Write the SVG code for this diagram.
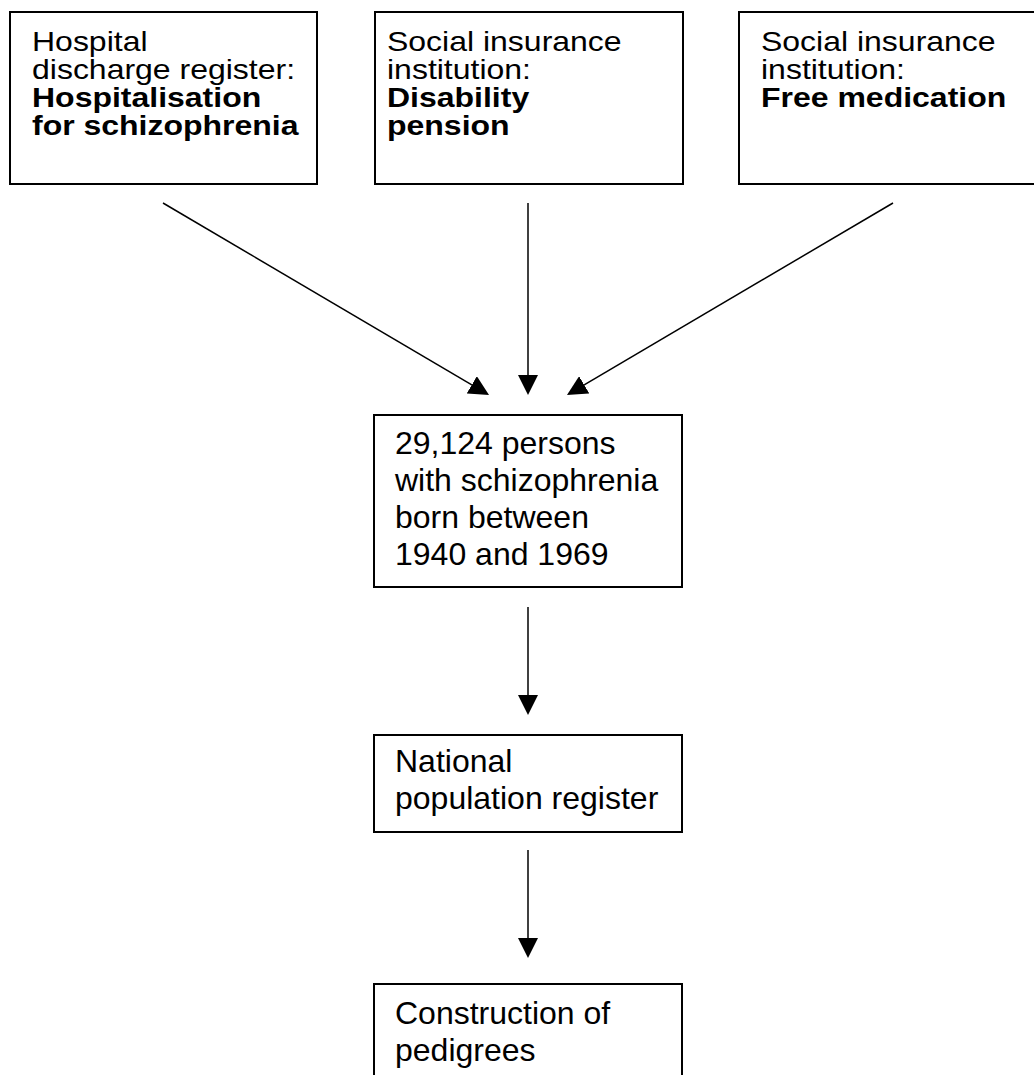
<svg xmlns="http://www.w3.org/2000/svg" width="1034" height="1075" viewBox="0 0 1034 1075">
<style>
.box{fill:#fff;stroke:#000;stroke-width:2}
.t{font-family:"Liberation Sans",Arial,Helvetica,sans-serif;font-size:32px;fill:#000}
.b{font-weight:bold}
.conn{stroke:#000;stroke-width:1.5;fill:none}
</style>
<defs>
<marker id="ah" markerUnits="userSpaceOnUse" markerWidth="20" markerHeight="20" refX="0" refY="10" orient="auto" viewBox="0 0 20 20">
<path d="M0,0 L20,10 L0,20 z" fill="#000"/>
</marker>
</defs>
<rect width="1034" height="1075" fill="#fff"/>
<g id="connectors">
<line class="conn" x1="163" y1="203" x2="471.8" y2="384.8" marker-end="url(#ah)"/>
<line class="conn" x1="528" y1="203" x2="528" y2="375" marker-end="url(#ah)"/>
<line class="conn" x1="893" y1="203" x2="584.2" y2="384.8" marker-end="url(#ah)"/>
<line class="conn" x1="528" y1="607" x2="528" y2="695" marker-end="url(#ah)"/>
<line class="conn" x1="528" y1="850" x2="528" y2="938" marker-end="url(#ah)"/>
</g>
<g id="hospital">
<rect class="box" x="10" y="12" width="307" height="172"/>
<g transform="translate(32,51) scale(1,0.875)">
<text class="t" x="0" y="0">Hospital</text>
<text class="t" x="0" y="32">discharge register:</text>
<text class="t b" x="0" y="64">Hospitalisation</text>
<text class="t b" x="0" y="96">for schizophrenia</text>
</g>
</g>
<g id="disability">
<rect class="box" x="375" y="12" width="308" height="172"/>
<g transform="translate(387,51) scale(1,0.875)">
<text class="t" x="0" y="0">Social insurance</text>
<text class="t" x="0" y="32">institution:</text>
<text class="t b" x="0" y="64">Disability</text>
<text class="t b" x="0" y="96">pension</text>
</g>
</g>
<g id="medication">
<rect class="box" x="739" y="12" width="310" height="172"/>
<g transform="translate(761,51) scale(1,0.875)">
<text class="t" x="0" y="0">Social insurance</text>
<text class="t" x="0" y="32">institution:</text>
<text class="t b" x="0" y="64">Free medication</text>
</g>
</g>
<g id="persons">
<rect class="box" x="374" y="415" width="308" height="172"/>
<text class="t" x="395" y="454">29,124 persons</text>
<text class="t" x="395" y="491">with schizophrenia</text>
<text class="t" x="395" y="528">born between</text>
<text class="t" x="395" y="565">1940 and 1969</text>
</g>
<g id="population">
<rect class="box" x="374" y="735" width="308" height="97"/>
<text class="t" x="395" y="772">National</text>
<text class="t" x="395" y="809">population register</text>
</g>
<g id="pedigrees">
<rect class="box" x="374" y="984" width="308" height="110"/>
<text class="t" x="395" y="1024">Construction of</text>
<text class="t" x="395" y="1061">pedigrees</text>
</g>
</svg>
